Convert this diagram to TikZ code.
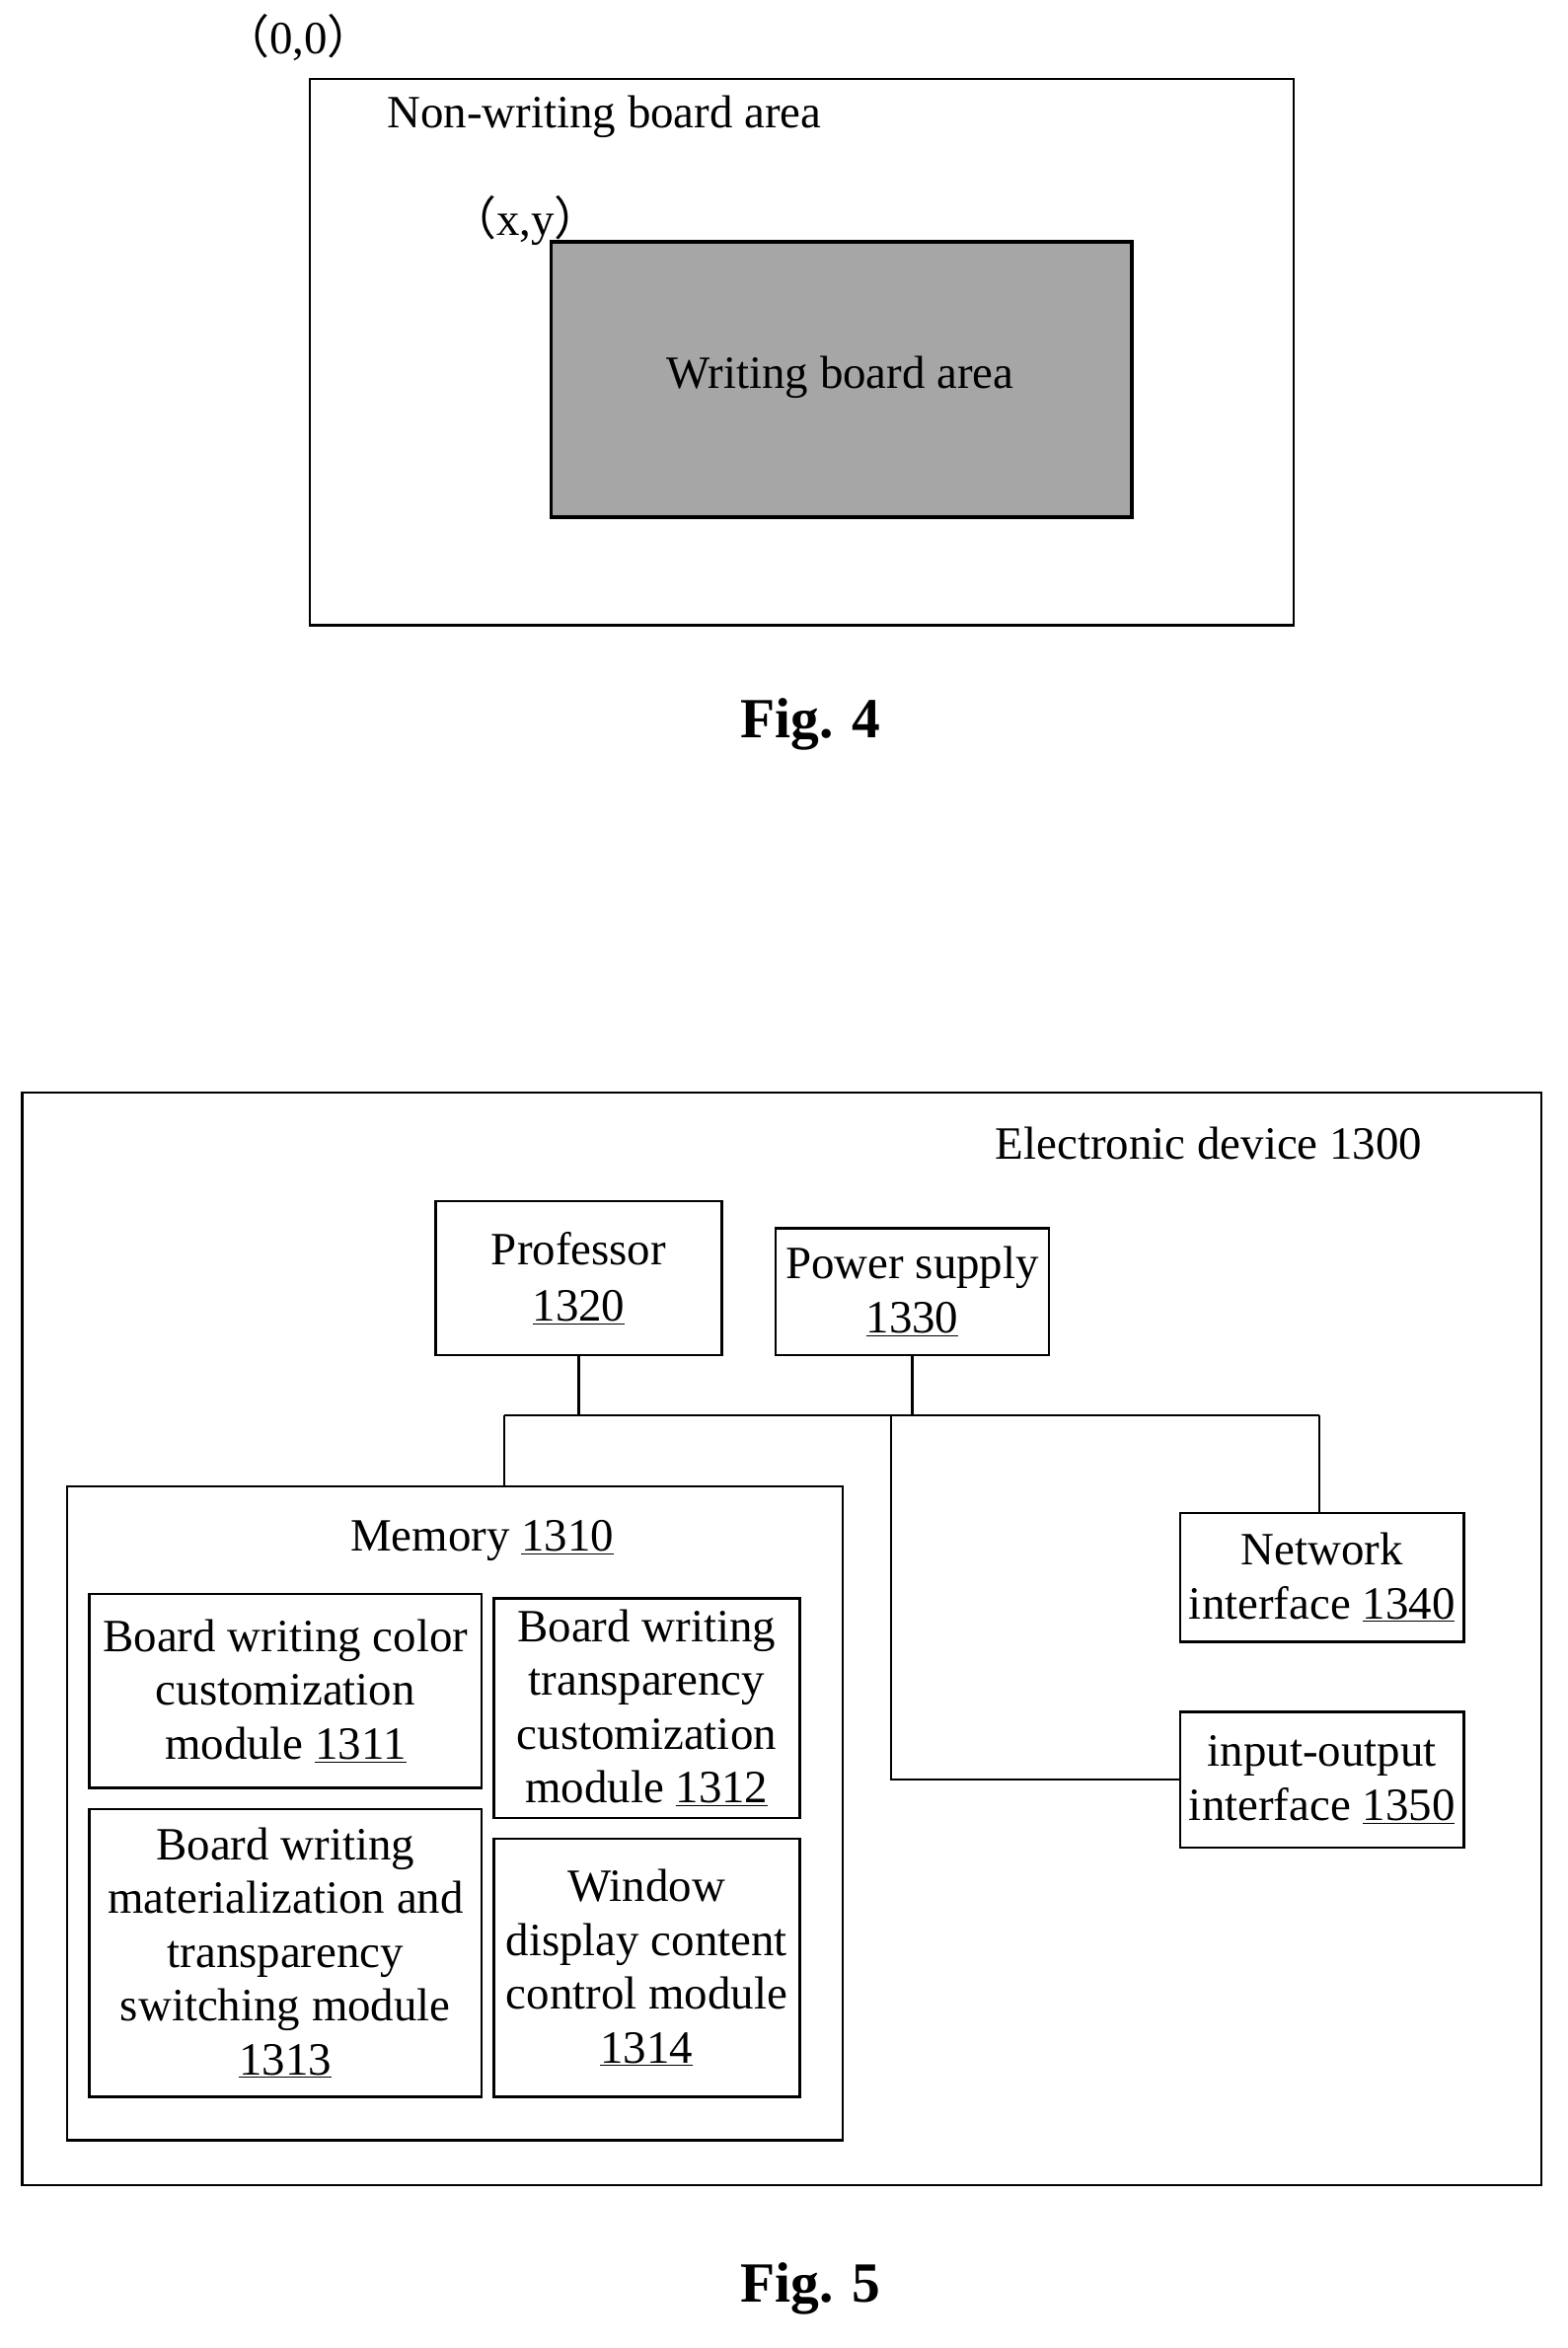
\documentclass[tikz,border=0pt]{standalone}
\usepackage{fontspec}
\setmainfont{Liberation Serif}
\newfontfamily\cjk{Noto Sans CJK SC}
\begin{document}
\begin{tikzpicture}[x=1pt,y=-1pt,
  box/.style={draw,line width=1.6pt},
  lbl/.style={font=\fontsize{31}{34}\selectfont,align=center,inner sep=0pt},
  ln/.style={line width=1.6pt}]
\useasboundingbox (0,0) rectangle (1050,1573);
% Fig 4
\node[box,minimum width=659pt,minimum height=366pt,anchor=north west] (outer4) at (207,52) {};
\node[draw,line width=2.5pt,fill=gray!70,minimum width=389pt,minimum height=184pt,anchor=north west] (wb) at (368,161) {};
\node[lbl] (t00) at (200,25) {{\cjk （}0,0{\cjk ）}};
\node[lbl] (tnw) at (405,78) {Non-writing board area};
\node[lbl] (txy) at (352,148) {{\cjk （}x,y{\cjk ）}};
\node[lbl] (twb) at (563,253) {Writing board area};
\node[lbl,font=\bfseries\fontsize{38}{40}\selectfont] (f4) at (543,485) {Fig. 4};
% Fig 5
\node[box,minimum width=1018pt,minimum height=732pt,anchor=north west] (ed) at (14,731) {};
\node[lbl] (edl) at (810,766) {Electronic device 1300};
\node[box,minimum width=192pt,minimum height=103pt,anchor=north west] (pro) at (291,804) {};
\node[lbl] at (pro.center) {Professor\\[4pt]\underline{1320}};
\node[box,minimum width=183pt,minimum height=85pt,anchor=north west] (pow) at (519,822) {};
\node[lbl] at (pow.center) {Power supply\\[2pt]\underline{1330}};
\node[box,minimum width=190pt,minimum height=86pt,anchor=north west] (net) at (790,1013) {};
\node[lbl] at (net.center) {Network\\[2pt]interface \underline{1340}};
\node[box,minimum width=190pt,minimum height=91pt,anchor=north west] (io) at (790,1146) {};
\node[lbl] at (io.center) {input-output\\[2pt]interface \underline{1350}};
\node[box,minimum width=520pt,minimum height=438pt,anchor=north west] (mem) at (44,995) {};
\node[lbl] (meml) at (323,1032) {Memory \underline{1310}};
\node[box,minimum width=263pt,minimum height=130pt,anchor=north west] (m1) at (59,1067) {};
\node[lbl] at (m1.center) {Board writing color\\[2pt]customization\\[2pt]module \underline{1311}};
\node[box,minimum width=205pt,minimum height=147pt,anchor=north west] (m2) at (330,1070) {};
\node[lbl] at (m2.center) {Board writing\\[2pt]transparency\\[2pt]customization\\[2pt]module \underline{1312}};
\node[box,minimum width=263pt,minimum height=193pt,anchor=north west] (m3) at (59,1211) {};
\node[lbl] at (m3.center) {Board writing\\[2pt]materialization and\\[2pt]transparency\\[2pt]switching module\\[2pt]\underline{1313}};
\node[box,minimum width=205pt,minimum height=173pt,anchor=north west] (m4) at (330,1231) {};
\node[lbl] at (m4.center) {Window\\[2pt]display content\\[2pt]control module\\[2pt]\underline{1314}};
\coordinate (bus) at (338,948);
\coordinate (busr) at (884,948);
\coordinate (iod) at (597,948);
\draw[ln] (pro.south) -- (pro.south |- bus);
\draw[ln] (pow.south) -- (pow.south |- bus);
\draw[ln] (bus) -- (busr);
\draw[ln] (bus) -- (mem.north -| bus);
\draw[ln] (busr) -- (net.north -| busr);
\draw[ln] (iod) -- (iod |- io.west) -- (io.west);
\node[lbl,font=\bfseries\fontsize{38}{40}\selectfont] (f5) at (543,1533) {Fig. 5};
\end{tikzpicture}
\end{document}
